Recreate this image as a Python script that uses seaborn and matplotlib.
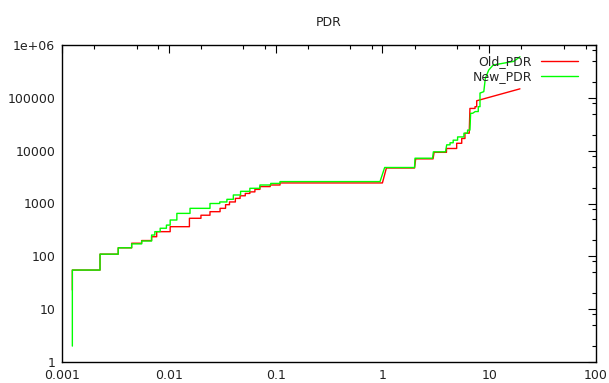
import matplotlib
matplotlib.use("Agg")
import matplotlib.pyplot as plt
import matplotlib.ticker as mticker
import seaborn as sns

# step vertices (log-log)
old_x = [0.00125, 0.00125, 0.00227, 0.00227, 0.00336, 0.00336, 0.00449, 0.00449,
         0.00557, 0.00557, 0.0069, 0.0069, 0.0077, 0.0077, 0.0103, 0.0103,
         0.0156, 0.0156, 0.02, 0.02, 0.0243, 0.0243, 0.0302, 0.0302,
         0.034, 0.034, 0.037, 0.037, 0.042, 0.042, 0.0465, 0.0465,
         0.052, 0.052, 0.0574, 0.0574, 0.064, 0.064, 0.0713, 0.0713,
         0.089, 0.089, 0.11, 0.11,
         1.0, 1.09, 2.0, 2.05, 2.98, 3.05, 3.98, 3.98, 4.96, 4.96, 5.53, 5.53,
         5.93, 5.93, 6.5, 6.6, 7.37, 7.37, 7.64, 7.64, 19.4]
old_y = [23, 55, 55, 110, 110, 145, 145, 177,
         177, 199, 199, 235, 235, 293, 293, 364,
         364, 525, 525, 600, 600, 700, 700, 810,
         810, 950, 950, 1070, 1070, 1250, 1250, 1400,
         1400, 1550, 1550, 1660, 1660, 1850, 1850, 2090,
         2090, 2240, 2240, 2450,
         2450, 4700, 4700, 7000, 7000, 9300, 9300, 11000, 11000, 13800, 13800, 17000,
         17000, 21400, 21400, 63000, 63000, 68000, 68000, 88000, 148000]

new_x = [0.00125, 0.00125, 0.00227, 0.00227, 0.00336, 0.00336, 0.00449, 0.00449,
         0.00557, 0.00557, 0.0069, 0.0069, 0.0074, 0.0074, 0.0083, 0.0083,
         0.0095, 0.0095, 0.0103, 0.0103, 0.0119, 0.0119, 0.0158, 0.0158,
         0.0243, 0.0243, 0.03, 0.03, 0.035, 0.035, 0.0402, 0.0402,
         0.047, 0.047, 0.0574, 0.0574, 0.0713, 0.0713, 0.09, 0.09, 0.11, 0.11,
         0.95, 1.05, 2.0, 2.02, 2.95, 3.0, 3.9, 4.0,
         4.3, 4.3, 4.6, 4.6, 5.06, 5.06, 5.8, 5.8, 6.27, 6.27, 6.6, 6.7, 7.0,
         7.4, 7.9, 7.9, 8.2, 8.2, 8.9, 9.2, 9.9, 10.9, 13.4, 17.0, 19.4]
new_y = [2, 55, 55, 110, 110, 145, 145, 172,
         172, 195, 195, 253, 253, 293, 293, 340,
         340, 390, 390, 487, 487, 650, 650, 810,
         810, 1000, 1000, 1070, 1070, 1200, 1200, 1450,
         1450, 1700, 1700, 1940, 1940, 2240, 2240, 2400, 2400, 2600,
         2600, 4800, 4800, 7200, 7200, 9500, 9500, 12900,
         12900, 14100, 14100, 15800, 15800, 18200, 18200, 21400, 21400, 24500, 24500, 51000, 51000,
         55000, 55000, 68000, 68000, 123000, 131000, 234000, 336000, 418000, 450000, 490000, 600000]

x_ticks = [0.001, 0.01, 0.1, 1, 10, 100]
x_labels = ["0.001", "0.01", "0.1", "1", "10", "100"]
y_ticks = [1, 10, 100, 1000, 10000, 100000, 1000000]
y_labels = ["1", "10", "100", "1000", "10000", "100000", "1e+06"]

sns.set_theme(style="white")
plt.rcParams['font.family'] = ['DejaVu Sans']

fig, ax = plt.subplots(figsize=(6.09, 3.83), dpi=100)
fig.subplots_adjust(left=62/609, right=596/609, bottom=1-362/383, top=1-45/383)

sns.lineplot(x=old_x, y=old_y, sort=False, estimator=None, color="#ff0000",
             lw=1, label="Old_PDR", ax=ax)
sns.lineplot(x=new_x, y=new_y, sort=False, estimator=None, color="#00ff00",
             lw=1, label="New_PDR", ax=ax)

ax.set_xscale("log")
ax.set_yscale("log")
ax.set_xlim(0.001, 100)
ax.set_ylim(1, 1e6)

ax.xaxis.set_major_locator(mticker.FixedLocator(x_ticks))
ax.xaxis.set_major_formatter(mticker.FixedFormatter(x_labels))
ax.yaxis.set_major_locator(mticker.FixedLocator(y_ticks))
ax.yaxis.set_major_formatter(mticker.FixedFormatter(y_labels))
ax.xaxis.set_minor_locator(mticker.LogLocator(base=10, subs=[2, 5, 8]))
ax.yaxis.set_minor_locator(mticker.LogLocator(base=10, subs=[2, 5, 8]))
ax.xaxis.set_minor_formatter(mticker.NullFormatter())
ax.yaxis.set_minor_formatter(mticker.NullFormatter())

ax.tick_params(which="both", direction="in", top=True, right=True,
               colors="black", labelcolor="#222222", labelsize=9)
ax.tick_params(which="major", length=6, width=0.8, pad=5)
ax.tick_params(which="minor", length=3, width=0.8)
for s in ax.spines.values():
    s.set_color("black")
    s.set_linewidth(1)

ax.set_title("PDR", fontsize=9, color="#222222", pad=14)

ax.legend(loc="upper right", bbox_to_anchor=((583-62)/534, 1 - 5/317),
          frameon=False, markerfirst=False, fontsize=9, handlelength=3.0,
          handletextpad=0.7, labelspacing=0.15, borderaxespad=0)

fig.savefig("out.png", dpi=100)
